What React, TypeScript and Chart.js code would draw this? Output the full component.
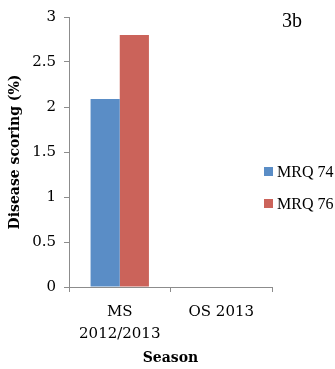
import React, { useEffect, useRef } from "react";
import { Chart, registerables } from "chart.js";

Chart.register(...registerables);

const categories: (string | string[])[] = [["MS", "2012/2013"], "OS 2013"];
const seriesLabels = ["MRQ 74", "MRQ 76"];
const mrq74 = [2.09, 0];
const mrq76 = [2.8, 0];
const yMin = 0;
const yMax = 3;
const yStep = 0.5;
const panelLabel = "3b";
const xTitle = "Season";
const yTitle = "Disease scoring (%)";
const seriesColors = ["#5A8DC6", "#CB635A"];

const W = 335;
const H = 369;

const overlay = {
  id: "overlay",
  afterDraw(chart: any) {
    const ctx = chart.ctx as CanvasRenderingContext2D;
    ctx.save();
    ctx.fillStyle = "#000";
    ctx.font = "20px 'Liberation Serif'";
    ctx.textAlign = "center";
    ctx.textBaseline = "middle";
    ctx.fillText(panelLabel, 292, 22);
    ctx.font = "16px 'Liberation Serif'";
    ctx.textAlign = "left";
    chart.data.datasets.forEach((ds: any, i: number) => {
      const y = 172 + i * 32;
      ctx.fillStyle = ds.backgroundColor;
      ctx.fillRect(264, y - 5, 9, 9);
      ctx.fillStyle = "#000";
      ctx.fillText(ds.label, 277, y + 1);
    });
    ctx.restore();
  },
};

export default function App() {
  const ref = useRef<HTMLCanvasElement | null>(null);
  useEffect(() => {
    document.body.style.margin = "0";
    const canvas = ref.current;
    if (!canvas) return;
    const axisColor = "#8c8c8c";
    const chart = new Chart(canvas, {
      type: "bar",
      data: {
        labels: categories as any,
        datasets: [
          { label: seriesLabels[0], data: mrq74, backgroundColor: seriesColors[0], borderWidth: 0 },
          { label: seriesLabels[1], data: mrq76, backgroundColor: seriesColors[1], borderWidth: 0 },
        ],
      },
      plugins: [overlay],
      options: {
        responsive: false,
        animation: false,
        devicePixelRatio: 1,
        layout: { padding: { left: 0, top: 15, right: 63, bottom: 0 } },
        plugins: { legend: { display: false }, tooltip: { enabled: false } },
        datasets: { bar: { categoryPercentage: 0.575, barPercentage: 1 } },
        scales: {
          x: {
            grid: { display: true, drawOnChartArea: false, drawTicks: true, tickLength: 5, color: axisColor, offset: true },
            border: { display: true, color: axisColor, width: 1 },
            ticks: {
              color: "#000",
              font: { family: "'DejaVu Serif'", size: 15, lineHeight: 1.47 },
              padding: 9,
              maxRotation: 0,
              autoSkip: false,
            },
            title: {
              display: true,
              text: xTitle,
              color: "#000",
              font: { family: "'DejaVu Serif'", size: 14, weight: "bold", lineHeight: 1.2 },
              padding: { top: 0, bottom: 2 },
            },
            afterFit: (s: any) => {
              s.height = 82;
            },
          },
          y: {
            min: yMin,
            max: yMax,
            grid: { display: true, drawOnChartArea: false, drawTicks: true, tickLength: 5, color: axisColor },
            border: { display: true, color: axisColor, width: 1 },
            ticks: {
              stepSize: yStep,
              color: "#000",
              font: { family: "'DejaVu Serif'", size: 15 },
              padding: 8,
              callback: (v: any) => String(Number(v)),
            },
            title: {
              display: true,
              text: yTitle,
              color: "#000",
              font: { family: "'DejaVu Serif'", size: 14, weight: "bold", lineHeight: 1.2 },
              padding: { top: 7, bottom: 0 },
            },
            afterFit: (s: any) => {
              s.width = 69;
            },
          },
        },
      },
    } as any);
    return () => chart.destroy();
  }, []);
  return (
    <div style={{ width: W, height: H }}>
      <canvas ref={ref} width={W} height={H} />
    </div>
  );
}
